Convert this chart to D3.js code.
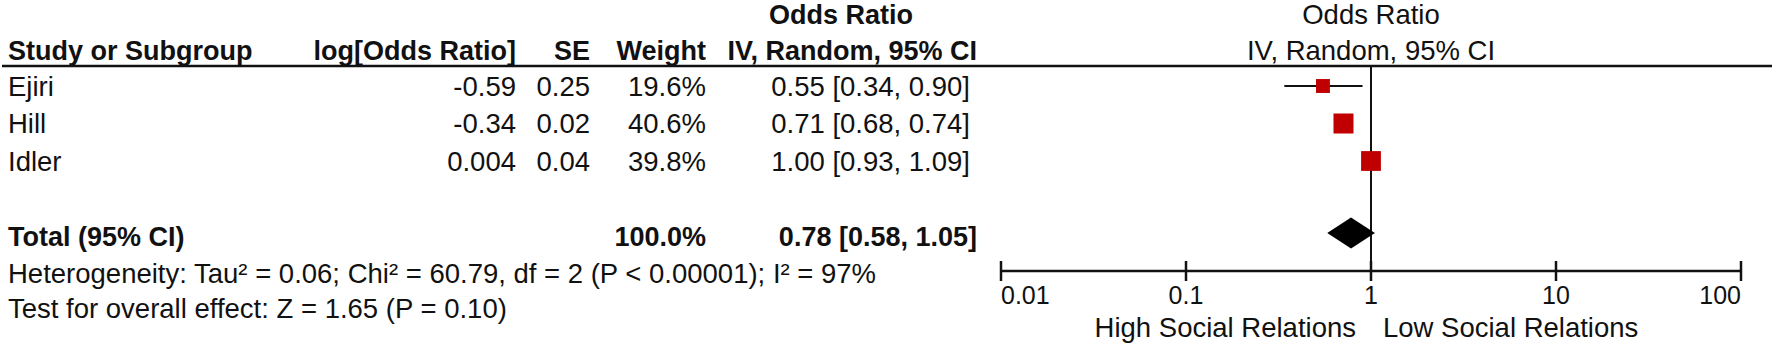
<!DOCTYPE html>
<html><head><meta charset="utf-8">
<script src="https://cdn.jsdelivr.net/npm/d3@7"></script>
<style>
html,body{margin:0;padding:0;background:#fff;}
svg{display:block;}
.n{font-family:"Liberation Sans",Arial,sans-serif;font-size:27.5px;fill:#111;}
.b{font-family:"Liberation Sans",Arial,sans-serif;font-size:27px;font-weight:bold;fill:#111;}
</style></head><body>
<script>
// ---- data ----
const studies = ["Ejiri", "Hill", "Idler"];
const logOR = ["-0.59", "-0.34", "0.004"];
const seVals = ["0.25", "0.02", "0.04"];
const weights = [19.6, 40.6, 39.8];
const orVals = [0.55, 0.71, 1.00];
const ciLow = [0.34, 0.68, 0.93];
const ciHigh = [0.90, 0.74, 1.09];
const totalLabel = "Total (95% CI)";
const totalWeight = 100.0;
const totalOR = 0.78, totalLow = 0.58, totalHigh = 1.05;
const heterogeneity = "Heterogeneity: Tau\u00B2 = 0.06; Chi\u00B2 = 60.79, df = 2 (P < 0.00001); I\u00B2 = 97%";
const overall = "Test for overall effect: Z = 1.65 (P = 0.10)";
const tickVals = [0.01, 0.1, 1, 10, 100];
const tickLabels = ["0.01", "0.1", "1", "10", "100"];
const favoursLeft = "High Social Relations";
const favoursRight = "Low Social Relations";
const headers = ["Study or Subgroup", "log[Odds Ratio]", "SE", "Weight", "IV, Random, 95% CI"];

const W = 1772, H = 346;
const svg = d3.select("body").append("svg").attr("width", W).attr("height", H);

const x = d3.scaleLog().domain([0.01, 100]).range([1001, 1741]);
const rowNames = studies.concat(["_gap", "_total"]);
const y = d3.scalePoint().domain(rowNames).range([86, 236]);
const size = d3.scaleSqrt().domain([0, 40.6]).range([0, 20]);
const f2 = d3.format(".2f");
const ciText = (o, l, h) => `${f2(o)} [${f2(l)}, ${f2(h)}]`;

const colRight = {log: 516, se: 590, w: 706, ci: 977, civ: 970};
const headY = 60, topY = 24, headerLineY = 66, axisY = 271;
const base = 9.5;

// headers
svg.append("text").attr("class","b").attr("x",841).attr("y",topY).attr("text-anchor","middle").text("Odds Ratio");
svg.append("text").attr("class","n").attr("x",x(1)).attr("y",topY).attr("text-anchor","middle").text("Odds Ratio");
svg.append("text").attr("class","b").attr("x",8).attr("y",headY).text(headers[0]);
svg.append("text").attr("class","b").attr("x",colRight.log).attr("y",headY).attr("text-anchor","end").text(headers[1]);
svg.append("text").attr("class","b").attr("x",colRight.se).attr("y",headY).attr("text-anchor","end").text(headers[2]);
svg.append("text").attr("class","b").attr("x",colRight.w).attr("y",headY).attr("text-anchor","end").text(headers[3]);
svg.append("text").attr("class","b").attr("x",colRight.ci).attr("y",headY).attr("text-anchor","end").text(headers[4]);
svg.append("text").attr("class","n").attr("x",x(1)).attr("y",headY).attr("text-anchor","middle").text(headers[4]);

svg.append("line").attr("x1",2).attr("x2",W).attr("y1",headerLineY).attr("y2",headerLineY)
  .attr("stroke","#111").attr("stroke-width",2.5);

// study rows
studies.forEach((s, i) => {
  const cy = y(s);
  svg.append("text").attr("class","n").attr("x",8).attr("y",cy+base).text(s);
  svg.append("text").attr("class","n").attr("x",colRight.log).attr("y",cy+base).attr("text-anchor","end").text(logOR[i]);
  svg.append("text").attr("class","n").attr("x",colRight.se).attr("y",cy+base).attr("text-anchor","end").text(seVals[i]);
  svg.append("text").attr("class","n").attr("x",colRight.w).attr("y",cy+base).attr("text-anchor","end").text(weights[i].toFixed(1)+"%");
  svg.append("text").attr("class","n").attr("x",colRight.civ).attr("y",cy+base).attr("text-anchor","end").text(ciText(orVals[i],ciLow[i],ciHigh[i]));
});

// null line
svg.append("line").attr("x1",x(1)).attr("x2",x(1)).attr("y1",headerLineY).attr("y2",axisY)
  .attr("stroke","#111").attr("stroke-width",2);

// CI lines and squares
studies.forEach((s, i) => {
  const cy = y(s);
  svg.append("line").attr("x1",x(ciLow[i])).attr("x2",x(ciHigh[i])).attr("y1",cy).attr("y2",cy)
    .attr("stroke","#111").attr("stroke-width",2);
  const sz = size(weights[i]);
  svg.append("rect").attr("x",x(orVals[i])-sz/2).attr("y",cy-sz/2).attr("width",sz).attr("height",sz)
    .attr("fill","#c00000");
});

// total
const ty = y("_total");
svg.append("text").attr("class","b").attr("x",8).attr("y",ty+base).text(totalLabel);
svg.append("text").attr("class","b").attr("x",colRight.w).attr("y",ty+base).attr("text-anchor","end").text(totalWeight.toFixed(1)+"%");
svg.append("text").attr("class","b").attr("x",colRight.ci).attr("y",ty+base).attr("text-anchor","end").text(ciText(totalOR,totalLow,totalHigh));
const dh = 15.5;
svg.append("path").attr("d",`M${x(totalLow)},${ty-3} L${x(totalOR)},${ty-3-dh} L${x(totalHigh)},${ty-3} L${x(totalOR)},${ty-3+dh} Z`)
  .attr("fill","#000");

// footnotes
svg.append("text").attr("class","n").attr("x",8).attr("y",283).text(heterogeneity);
svg.append("text").attr("class","n").attr("x",8).attr("y",318).text(overall);

// axis
const axisG = svg.append("g");
axisG.append("line").attr("x1",x(0.01)).attr("x2",x(100)).attr("y1",axisY).attr("y2",axisY)
  .attr("stroke","#111").attr("stroke-width",2.5);
tickVals.forEach((t, i) => {
  axisG.append("line").attr("x1",x(t)).attr("x2",x(t)).attr("y1",axisY-10).attr("y2",axisY+10)
    .attr("stroke","#111").attr("stroke-width",2.5);
  const anchor = i === 0 ? "start" : (i === tickVals.length-1 ? "end" : "middle");
  axisG.append("text").attr("class","n").attr("x",x(t)).attr("y",304).attr("text-anchor",anchor)
    .style("font-size","25px").text(tickLabels[i]);
});
svg.append("text").attr("class","n").attr("x",x(1)-15).attr("y",337).attr("text-anchor","end").text(favoursLeft);
svg.append("text").attr("class","n").attr("x",x(1)+12).attr("y",337).attr("text-anchor","start").text(favoursRight);
</script>
</body></html>
